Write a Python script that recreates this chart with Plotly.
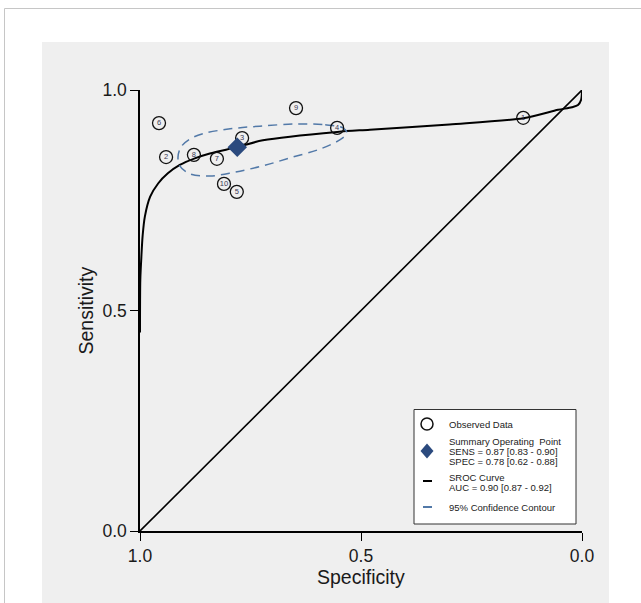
import plotly.graph_objects as go

# ---------------- data ----------------
study_ids = ["1", "2", "3", "4", "5", "6", "7", "8", "9", "10"]
study_spec = [0.133, 0.941, 0.769, 0.554, 0.781, 0.957, 0.826, 0.878, 0.647, 0.810]
study_sens = [0.937, 0.848, 0.891, 0.914, 0.769, 0.925, 0.844, 0.853, 0.959, 0.787]

summary_spec = [0.78]
summary_sens = [0.87]

sroc_spec = [1.0, 0.9993, 0.997, 0.994, 0.989, 0.977, 0.959, 0.937, 0.910, 0.876, 0.842,
             0.778, 0.722, 0.554, 0.480, 0.300, 0.133, 0.054, 0.023, 0.009, 0.002, 0.0]
sroc_sens = [0.45, 0.57, 0.62, 0.67, 0.713, 0.758, 0.788, 0.811, 0.830, 0.845, 0.856,
             0.871, 0.886, 0.905, 0.910, 0.922, 0.936, 0.955, 0.961, 0.966, 0.978, 1.0]

contour_spec = [0.645, 0.581, 0.541, 0.532, 0.548, 0.593, 0.661, 0.722, 0.785, 0.842,
                0.887, 0.910, 0.914, 0.907, 0.887, 0.853, 0.796, 0.729, 0.645]
contour_sens = [0.923, 0.921, 0.914, 0.902, 0.887, 0.866, 0.846, 0.828, 0.814, 0.805,
                0.810, 0.828, 0.848, 0.871, 0.889, 0.902, 0.912, 0.918, 0.923]

diag_spec = [1.0, 0.0]
diag_sens = [0.0, 1.0]

tick_vals = [0.0, 0.5, 1.0]
tick_text = ["0.0", "0.5", "1.0"]

legend_lines = [
    ("Observed Data", 424),
    ("Summary Operating  Point", 441),
    ("SENS = 0.87 [0.83 - 0.90]", 451),
    ("SPEC = 0.78 [0.62 - 0.88]", 461),
    ("SROC Curve", 477),
    ("AUC = 0.90 [0.87 - 0.92]", 487),
    ("95% Confidence Contour", 507),
]

# ---------------- styling ----------------
W, H = 641, 603
L, R, T, B = 140, 582, 90, 531  # plot area in pixels
FONT = "Liberation Sans, Arial, sans-serif"
CONTOUR_COLOR = "#5279a8"
DIAMOND_COLOR = "#2b4a7e"
TEXT_COLOR = "#1a1a1a"


def px(xp):
    return (xp - L) / (R - L)


def py(yp):
    return (B - yp) / (B - T)


fig = go.Figure()

fig.add_trace(go.Scatter(x=diag_spec, y=diag_sens, mode="lines",
                         line=dict(color="black", width=1.6), hoverinfo="skip"))
fig.add_trace(go.Scatter(x=sroc_spec, y=sroc_sens, mode="lines",
                         line=dict(color="black", width=2, shape="spline", smoothing=0.8),
                         cliponaxis=False))
fig.add_trace(go.Scatter(x=contour_spec, y=contour_sens, mode="lines",
                         line=dict(color=CONTOUR_COLOR, width=1.5, dash="9px,6px",
                                   shape="spline", smoothing=1.0)))
fig.add_trace(go.Scatter(x=study_spec, y=study_sens, mode="markers+text",
                         text=study_ids, textposition="middle center",
                         textfont=dict(family=FONT, size=7.5, color="#3a3a55"),
                         marker=dict(symbol="circle-open", size=13, color="#111111",
                                     line=dict(width=1.3, color="#111111"))))
fig.add_trace(go.Scatter(x=summary_spec, y=summary_sens, mode="markers",
                         marker=dict(symbol="diamond", size=15, color=DIAMOND_COLOR,
                                     line=dict(width=0))))

shapes = []
# gray panel
shapes.append(dict(type="rect", xref="paper", yref="paper", layer="below",
                   x0=px(42), x1=px(609), y0=py(603), y1=py(42),
                   fillcolor="#efefef", line=dict(width=0)))
# outer thin frame
shapes.append(dict(type="rect", xref="paper", yref="paper", layer="below",
                   x0=px(4.5), x1=px(700), y0=py(700), y1=py(8.5),
                   fillcolor="rgba(0,0,0,0)", line=dict(width=1, color="#c6c6c6")))
# legend box
shapes.append(dict(type="rect", xref="paper", yref="paper",
                   x0=px(414), x1=px(576), y0=py(524), y1=py(409.5),
                   fillcolor="white", line=dict(width=1, color="#333333")))
# legend circle
shapes.append(dict(type="circle", xref="paper", yref="paper",
                   x0=px(421), x1=px(433), y0=py(430), y1=py(418),
                   line=dict(width=1.5, color="#111111")))
# legend diamond
shapes.append(dict(type="path", xref="paper", yref="paper",
                   path="M {a},{b} L {c},{d} L {a},{e} L {f},{d} Z".format(
                       a=px(427), b=py(443.5), c=px(433.5), d=py(451), e=py(458.5), f=px(420.5)),
                   fillcolor=DIAMOND_COLOR, line=dict(width=0)))
# legend lines
shapes.append(dict(type="line", xref="paper", yref="paper",
                   x0=px(423), x1=px(432), y0=py(481), y1=py(481),
                   line=dict(width=2, color="black")))
shapes.append(dict(type="line", xref="paper", yref="paper",
                   x0=px(423), x1=px(432), y0=py(507), y1=py(507),
                   line=dict(width=2, color=CONTOUR_COLOR)))

annotations = []
for txt, ypix in legend_lines:
    annotations.append(dict(text=txt, xref="paper", yref="paper", x=px(447), y=py(ypix),
                            xanchor="left", yanchor="middle", showarrow=False,
                            font=dict(family=FONT, size=9.5, color="#222222")))
annotations.append(dict(text="Specificity", xref="paper", yref="paper",
                        x=0.5, y=py(577), xanchor="center", yanchor="middle",
                        showarrow=False, font=dict(family=FONT, size=19.5, color=TEXT_COLOR)))
annotations.append(dict(text="Sensitivity", xref="paper", yref="paper",
                        x=px(85), y=0.5, xanchor="center", yanchor="middle", textangle=-90,
                        showarrow=False, font=dict(family=FONT, size=19.5, color=TEXT_COLOR)))

axis_common = dict(tickvals=tick_vals, ticktext=tick_text, ticks="outside", ticklen=8,
                   tickwidth=1.3, tickcolor="black", showline=True, linecolor="black",
                   linewidth=1.5, showgrid=False, zeroline=False,
                   tickfont=dict(family=FONT, size=17.5, color=TEXT_COLOR))

fig.update_layout(
    width=W, height=H,
    margin=dict(l=L, r=W - R, t=T, b=H - B),
    paper_bgcolor="white", plot_bgcolor="white",
    showlegend=False,
    xaxis=dict(range=[1, 0], **axis_common),
    yaxis=dict(range=[0, 1], **axis_common),
    shapes=shapes, annotations=annotations,
    font=dict(family=FONT),
)

fig.write_html("out.html")
